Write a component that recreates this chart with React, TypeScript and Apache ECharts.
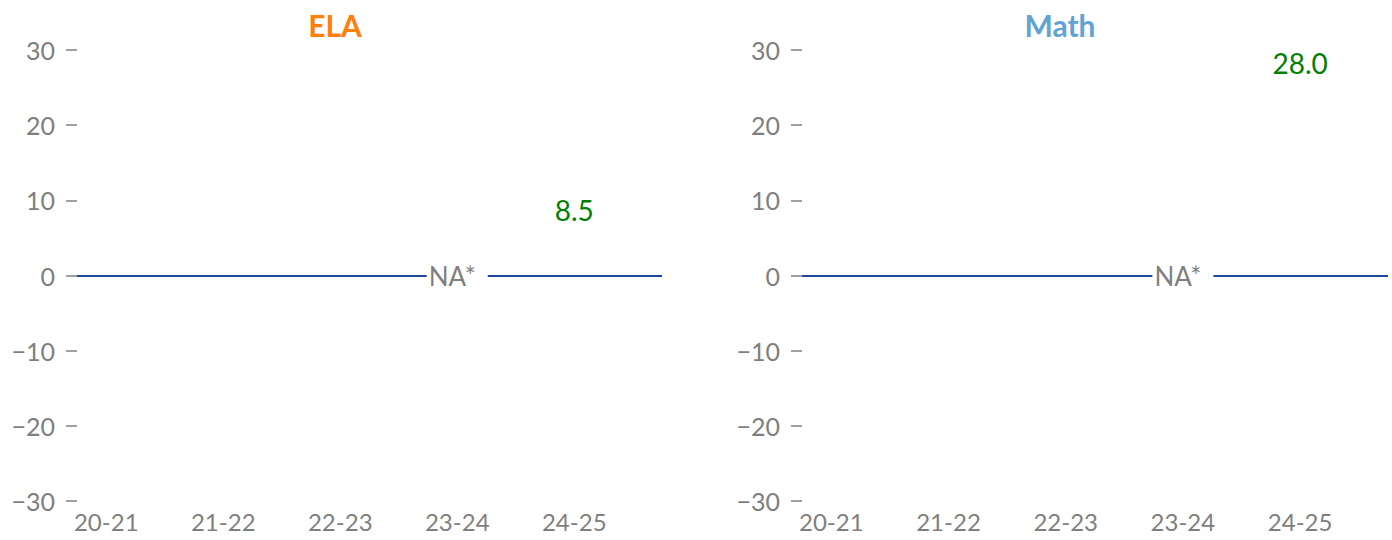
import React, { useEffect, useRef } from "react";
import * as echarts from "echarts";

const years = ["20-21", "21-22", "22-23", "23-24", "24-25"];
const yTicks = [-30, -20, -10, 0, 10, 20, 30];
const elaValues: (number | null)[] = [null, null, null, null, 8.5];
const mathValues: (number | null)[] = [null, null, null, null, 28.0];
const elaNA = [false, false, false, true, false];
const mathNA = [false, false, false, true, false];
const subjects = ["ELA", "Math"];
const subjectColors = ["#ff7f0e", "#62a3d3"];

const FONT = "Lato, 'Open Sans', sans-serif";
const GRAY = "#7f7f7f";

export default function App() {
  const ref = useRef<HTMLDivElement>(null);
  useEffect(() => {
    document.body.style.margin = "0";
    const chart = echarts.init(ref.current!, null, { renderer: "svg" });
    const grids = [
      { left: 77, right: 730, top: 50, bottom: 39 },
      { left: 802, right: 4, top: 50, bottom: 39 },
    ];
    const allValues = [elaValues, mathValues];
    const allNA = [elaNA, mathNA];
    const xAxes = grids.map((_, gi) => ({
      type: "value",
      gridIndex: gi,
      min: -0.25,
      max: years.length - 0.25,
      axisLine: { show: false, onZero: false },
      axisTick: { show: false },
      splitLine: { show: false },
      axisLabel: {
        customValues: years.map((_, i) => i),
        formatter: (v: number) => years[Math.round(v)] ?? "",
        color: GRAY,
        fontFamily: FONT,
        fontSize: 24,
        margin: 8,
      },
    }));
    const yAxes = grids.map((_, gi) => ({
      type: "value",
      gridIndex: gi,
      min: yTicks[0],
      max: yTicks[yTicks.length - 1],
      interval: 10,
      axisLine: { show: false, onZero: false },
      axisTick: { show: true, length: 11, lineStyle: { color: "#808080", width: 1.5 } },
      splitLine: { show: false },
      axisLabel: {
        formatter: (v: number) => String(v).replace("-", "\u2212"),
        color: GRAY,
        fontFamily: FONT,
        fontSize: 25,
        margin: 22,
      },
    }));
    const series: any[] = [];
    grids.forEach((_, gi) => {
      series.push({
        type: "line",
        xAxisIndex: gi,
        yAxisIndex: gi,
        data: [],
        markLine: {
          silent: true,
          symbol: "none",
          label: { show: false },
          lineStyle: { color: "#1f47a0", width: 2, type: "solid", opacity: 1 },
          data: [{ yAxis: 0 }],
        },
      });
      series.push({
        type: "scatter",
        xAxisIndex: gi,
        yAxisIndex: gi,
        symbolSize: 1,
        itemStyle: { color: "rgba(255,255,255,0)", opacity: 1 },
        z: 5,
        data: allNA[gi]
          .map((na, i) => (na ? [i, 0] : null))
          .filter((d) => d !== null),
        label: {
          show: true,
          position: "inside",
          formatter: "NA*",
          color: GRAY,
          opacity: 1,
          textBorderWidth: 0,
          fontFamily: FONT,
          fontSize: 26,
          backgroundColor: "#ffffff",
          padding: [2, 12, 2, 2],
        },
      });
      series.push({
        type: "scatter",
        xAxisIndex: gi,
        yAxisIndex: gi,
        symbolSize: 1,
        itemStyle: { color: "rgba(255,255,255,0)", opacity: 1 },
        z: 5,
        data: allValues[gi]
          .map((v, i) => (v === null ? null : [i, v]))
          .filter((d) => d !== null),
        label: {
          show: true,
          position: "inside",
          offset: [0, -2],
          formatter: (p: any) => p.value[1].toFixed(1),
          color: "#008000",
          opacity: 1,
          textBorderWidth: 0,
          fontFamily: FONT,
          fontSize: 28,
        },
      });
    });
    chart.setOption({
      animation: false,
      grid: grids,
      xAxis: xAxes,
      yAxis: yAxes,
      series,
      graphic: subjects.map((s, i) => ({
        type: "text",
        x: i === 0 ? 335 : 1060,
        y: 25,
        style: {
          text: s,
          fill: subjectColors[i],
          fontFamily: FONT,
          fontSize: 30,
          fontWeight: "bold",
          align: "center",
          verticalAlign: "middle",
        },
      })),
    });
    return () => chart.dispose();
  }, []);
  return <div ref={ref} style={{ width: 1392, height: 540 }} />;
}
